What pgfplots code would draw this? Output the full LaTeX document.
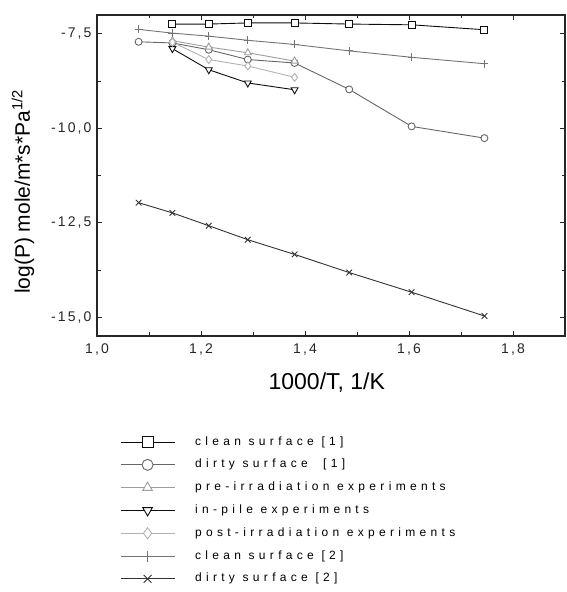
\documentclass[border=0pt]{standalone}
\usepackage{fontspec}
\setmainfont{Liberation Sans}
\newfontfamily\legfont[LetterSpace=36]{Liberation Sans}
\newfontfamily\tickfont[LetterSpace=15]{Liberation Sans}
\usepackage{pgfplots}
\pgfplotsset{compat=1.18}

\definecolor{cclean}{gray}{0.05}
\definecolor{cdirty}{gray}{0.40}
\definecolor{cpre}{gray}{0.62}
\definecolor{cpile}{gray}{0.05}
\definecolor{cpost}{gray}{0.70}
\definecolor{cclean2}{gray}{0.45}
\definecolor{cdirty2}{gray}{0.20}

\begin{document}
\begin{tikzpicture}
\begin{axis}[
  name=ax,
  scale only axis,
  width=468pt, height=321pt,
  xmin=1.0, xmax=1.9,
  ymin=-15.5, ymax=-7.0,
  xtick={1.0,1.2,1.4,1.6,1.8},
  ytick={-15,-12.5,-10,-7.5},
  minor tick num=1,
  tick align=inside,
  major tick length=5pt, minor tick length=3.5pt,
  axis line style={line width=1.1pt, black!85},
  every tick/.style={black!85, line width=0.8pt},
  /pgf/number format/.cd, fixed, fixed zerofill, precision=1, use comma, assume math mode=true,
  /pgfplots/.cd,
  ticklabel style={font=\tickfont\fontsize{14}{14}\selectfont, black!85},
  xticklabel style={yshift=-4pt},
  yticklabel style={xshift=-2pt},
  xlabel={1000/T, 1/K},
  ylabel={log(P) mole/m*s*Pa\textsuperscript{1/2}},
  xlabel style={font=\fontsize{23}{23}\selectfont, at={(axis description cs:0.491,-0.146)}, anchor=center},
  ylabel style={font=\fontsize{21}{21}\selectfont, at={(axis description cs:-0.158,0.449)}, anchor=center},
  every axis plot/.append style={line width=0.9pt, mark options={solid, fill=white, line width=0.9pt}},
  legend image code/.code={\draw[mark repeat=2,mark phase=2] plot coordinates {(0pt,0pt)(27pt,0pt)(54pt,0pt)};},
  legend image post style={mark size=5.5pt},
  legend cell align=left,
  legend style={at={(0.049,-0.311)}, anchor=north west, draw=none, fill=none,
    inner sep=0pt, row sep=10.8pt,
    nodes={inner sep=0pt, text height=9pt, text depth=3pt, font=\legfont\fontsize{12}{12}\selectfont},
    /tikz/every odd column/.append style={column sep=20pt}},
]
\addplot[cclean, mark=square*, mark size=3.5pt] coordinates {
  (1.145,-7.24) (1.215,-7.24) (1.29,-7.21) (1.38,-7.21) (1.485,-7.24) (1.605,-7.26) (1.745,-7.39)
};
\addlegendentry{clean surface [1]}
\addplot[cdirty, mark=*, mark size=3.5pt] coordinates {
  (1.08,-7.71) (1.145,-7.74) (1.215,-7.92) (1.29,-8.18) (1.38,-8.27) (1.485,-8.97) (1.605,-9.95) (1.745,-10.26)
};
\addlegendentry{dirty surface\ \ [1]}
\addplot[cpre, mark=triangle*, mark size=4pt] coordinates {
  (1.145,-7.68) (1.215,-7.85) (1.29,-8.00) (1.38,-8.22)
};
\addlegendentry{pre-irradiation experiments}
\addplot[cpile, mark=triangle*, mark size=4pt, mark options={solid, fill=white, line width=0.9pt, rotate=180}] coordinates {
  (1.145,-7.89) (1.215,-8.45) (1.29,-8.80) (1.38,-8.98)
};
\addlegendentry{in-pile experiments}
\addplot[cpost, mark=diamond*, mark size=4pt] coordinates {
  (1.145,-7.72) (1.215,-8.18) (1.29,-8.35) (1.38,-8.65)
};
\addlegendentry{post-irradiation experiments}
\addplot[cclean2, mark=+, mark size=4pt] coordinates {
  (1.08,-7.38) (1.145,-7.48) (1.215,-7.56) (1.29,-7.67) (1.38,-7.78) (1.485,-7.95) (1.605,-8.12) (1.745,-8.29)
};
\addlegendentry{clean surface [2]}
\addplot[cdirty2, mark=x, mark size=4pt] coordinates {
  (1.08,-11.97) (1.145,-12.24) (1.215,-12.58) (1.29,-12.95) (1.38,-13.34) (1.485,-13.82) (1.605,-14.34) (1.745,-14.97)
};
\addlegendentry{dirty surface [2]}
\end{axis}
\pgfresetboundingbox
\path ([xshift=-97pt,yshift=-256pt]ax.south west) rectangle ([xshift=2pt,yshift=15pt]ax.north east);
\end{tikzpicture}
\end{document}
